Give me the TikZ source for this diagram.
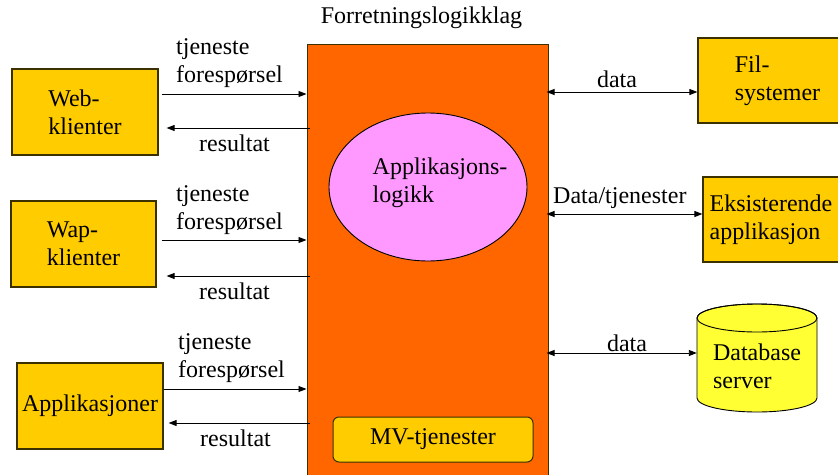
\documentclass[tikz,border=0pt]{standalone}
\usepackage{fontspec}
\setmainfont{Liberation Serif}
\usetikzlibrary{arrows.meta,shapes.geometric}
\definecolor{gold}{HTML}{FFCC00}
\definecolor{layer}{HTML}{FF6600}
\definecolor{logicpink}{HTML}{FF99FF}
\definecolor{dbyellow}{HTML}{FFFF33}
\definecolor{edge}{HTML}{3A3000}
\begin{document}
\begin{tikzpicture}[x=1pt,y=-1pt,
  font=\fontsize{24}{28}\selectfont,
  client/.style={draw=edge, line width=1.2pt, fill=gold, align=left, inner sep=0pt},
  lbl/.style={inner sep=0pt, anchor=west, align=left},
  flow/.style={line width=0.9pt, -{Triangle[length=8pt,width=6pt]}},
  both/.style={line width=0.9pt, {Triangle[length=8pt,width=6pt]}-{Triangle[length=8pt,width=6pt]}}]

\useasboundingbox (0,0) rectangle (838,474);

% business logic layer
\node[inner sep=0pt] (title) at (421.5,18) {Forretningslogikklag};
\node[draw=edge, fill=layer, line width=1pt, minimum width=241pt, minimum height=446pt, inner sep=0pt] (core) at (427.5,267) {};
\node[ellipse, draw=black, fill=logicpink, line width=0.9pt, minimum width=198pt, minimum height=148pt, inner sep=0pt] (logic) at (428,187) {};
\node[inner sep=0pt, align=left] (logictext) at (440,183) {Applikasjons-\\logikk};
\node[draw=edge, fill=gold, line width=1pt, rounded corners=6pt, minimum width=200pt, minimum height=45pt, inner sep=0pt] (mv) at (433,439.5) {MV-tjenester};

% clients
\node[client, minimum width=146pt, minimum height=86pt] (web) at (85,112) {Web-\\klienter};
\node[client, minimum width=145pt, minimum height=86pt] (wap) at (83.5,244) {Wap-\\klienter};
\node[client, minimum width=146pt, minimum height=86pt] (app) at (90,406) {Applikasjoner};

% resources
\node[client, minimum width=159pt, minimum height=85pt] (fil) at (777.5,80.5) {Fil-\\systemer};
\node[client, minimum width=136pt, minimum height=85pt] (eks) at (771,219.5) {Eksisterende\\applikasjon};
\draw[fill=dbyellow, line width=0.9pt] (697,318) -- (697,398)
  arc[start angle=180, end angle=360, x radius=60pt, y radius=14pt] -- (817,318)
  arc[start angle=0, end angle=180, x radius=60pt, y radius=14pt] -- cycle;
\draw[line width=0.9pt] (757,318) ellipse [x radius=60pt, y radius=14pt];
\node[inner sep=0pt, minimum width=120pt, minimum height=108pt, align=left] (db) at (757,366) {Database\\server};

% request / result connectors
\coordinate (webreq) at ([xshift=3pt,yshift=18pt]web.east);
\coordinate (webres) at ([xshift=8pt,yshift=-16pt]web.east);
\coordinate (wapreq) at ([xshift=5pt,yshift=4pt]wap.east);
\coordinate (wapres) at ([xshift=10pt,yshift=-32pt]wap.east);
\coordinate (appreq) at ([xshift=0pt,yshift=17pt]app.east);
\coordinate (appres) at ([xshift=5pt,yshift=-17pt]app.east);
\draw[flow] (webreq) -- (core.west |- webreq);
\draw[flow, shorten <=-3pt] (core.west |- webres) -- (webres);
\draw[flow] (wapreq) -- (core.west |- wapreq);
\draw[flow, shorten <=-3pt] (core.west |- wapres) -- (wapres);
\draw[flow] (appreq) -- (core.west |- appreq);
\draw[flow, shorten <=-3pt] (core.west |- appres) -- (appres);

\node[lbl] (webreqlbl) at (176,63) {tjeneste\\forespørsel};
\node[lbl] (webreslbl) at (199,143) {resultat};
\node[lbl] (wapreqlbl) at (176,210) {tjeneste\\forespørsel};
\node[lbl] (wapreslbl) at (199,291) {resultat};
\node[lbl] (appreqlbl) at (178,358.5) {tjeneste\\forespørsel};
\node[lbl] (appreslbl) at (200,438) {resultat};

% data connectors
\coordinate (filport) at ([yshift=-11.5pt]fil.west);
\coordinate (eksport) at ([yshift=5.5pt]eks.west);
\coordinate (dbport) at ([yshift=13pt]db.west);
\draw[both, shorten <=-2pt] (core.east |- filport) -- (filport);
\draw[both, shorten <=-2pt] (core.east |- eksport) -- (eksport);
\draw[both, shorten <=-2pt] (core.east |- dbport) -- (dbport);

\node[inner sep=0pt] (fillbl) at (617,79) {data};
\node[lbl] (ekslbl) at (553,198) {Data/tjenester};
\node[inner sep=0pt] (dblbl) at (627,343) {data};
\end{tikzpicture}
\end{document}
